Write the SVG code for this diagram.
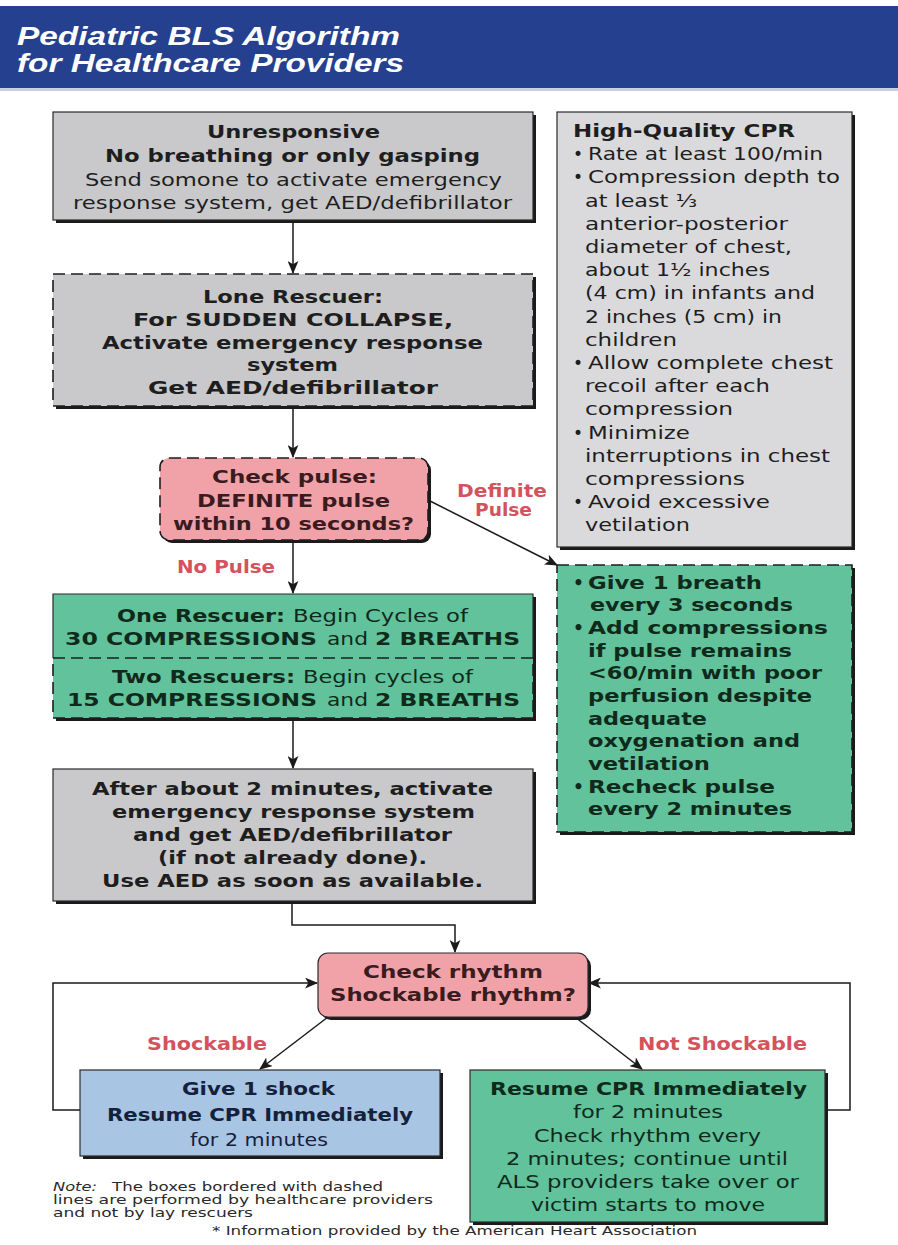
<svg xmlns="http://www.w3.org/2000/svg" width="898" height="1245" viewBox="0 0 898 1245">
<defs>
<style>
.b{font-family:"DejaVu Sans",sans-serif;font-weight:bold;font-size:18px;fill:#1e1e1e}
.r{font-family:"DejaVu Sans",sans-serif;font-size:18px;fill:#1e1e1e}
.cb{font-family:"DejaVu Sans",sans-serif;font-weight:bold;font-size:17px;fill:#1e1e1e}
.cr{font-family:"DejaVu Sans",sans-serif;font-size:17px;fill:#1e1e1e}
.pk{fill:#3a1b20}
.gt{fill:#0f2a1b}
.bt{fill:#15213b}
.lbl{font-family:"DejaVu Sans",sans-serif;font-weight:bold;font-size:17px;fill:#d4525c}
.note{font-family:"DejaVu Sans",sans-serif;font-size:11.5px;fill:#2a2a2a}
.title{font-family:"Liberation Sans",Arial,sans-serif;font-weight:bold;font-style:italic;font-size:25px;fill:#ffffff}
.sh{fill:#1a1a1a}
.solid{stroke:#2a2a2a;stroke-width:1.2}
.dash{stroke:#1e1e1e;stroke-width:1.6;stroke-dasharray:12 6}
.con{fill:none;stroke:#1a1a1a;stroke-width:1.5}
</style>
<marker id="ah" viewBox="0 0 12 10" refX="11" refY="5" markerWidth="13" markerHeight="11" markerUnits="userSpaceOnUse" orient="auto">
<path d="M0,0 L12,5 L0,10 L3,5 z" fill="#1a1a1a"/>
</marker>
</defs>
<rect width="898" height="1245" fill="#ffffff"/>

<g id="header">
<rect x="0" y="6" width="898" height="82" fill="#24408e"/>
<rect x="0" y="88" width="898" height="3" fill="#c9cfe2"/>
<text class="title" x="17" y="45" textLength="383" lengthAdjust="spacingAndGlyphs">Pediatric BLS Algorithm</text>
<text class="title" x="17" y="72" textLength="387" lengthAdjust="spacingAndGlyphs">for Healthcare Providers</text>
</g>

<g id="connectors">
<line class="con" x1="293" y1="223" x2="293" y2="273" marker-end="url(#ah)"/>
<line class="con" x1="293" y1="409" x2="293" y2="457" marker-end="url(#ah)"/>
<line class="con" x1="428" y1="500" x2="557" y2="565" marker-end="url(#ah)"/>
<line class="con" x1="293" y1="543" x2="293" y2="593" marker-end="url(#ah)"/>
<line class="con" x1="293" y1="721" x2="293" y2="768" marker-end="url(#ah)"/>
<polyline class="con" points="292,904 292,925 455,925 455,952" marker-end="url(#ah)"/>
<line class="con" x1="328" y1="1017" x2="260" y2="1069" marker-end="url(#ah)"/>
<line class="con" x1="575" y1="1017" x2="642" y2="1069" marker-end="url(#ah)"/>
<polyline class="con" points="80,1110 53,1110 53,983 317,983" marker-end="url(#ah)"/>
<polyline class="con" points="825,1110 850,1110 850,983 589,983" marker-end="url(#ah)"/>
</g>

<g id="unresponsive">
<rect class="sh" x="56" y="115" width="480" height="108"/>
<rect class="solid" x="53" y="112" width="480" height="108" fill="#c9c9cb"/>
<text class="b" x="207" y="138" textLength="173" lengthAdjust="spacingAndGlyphs">Unresponsive</text>
<text class="b" x="105" y="162" textLength="375" lengthAdjust="spacingAndGlyphs">No breathing or only gasping</text>
<text class="r" x="85" y="186" textLength="417" lengthAdjust="spacingAndGlyphs">Send somone to activate emergency</text>
<text class="r" x="73" y="209" textLength="439" lengthAdjust="spacingAndGlyphs">response system, get AED/defibrillator</text>
</g>

<g id="lone-rescuer">
<rect class="sh" x="56" y="277" width="480" height="132"/>
<rect x="53" y="274" width="480" height="132" fill="#c9c9cb"/>
<rect class="dash" x="53" y="274" width="480" height="132" fill="none"/>
<text class="b" x="203" y="303" textLength="180" lengthAdjust="spacingAndGlyphs">Lone Rescuer:</text>
<text class="b" x="133" y="326" textLength="320" lengthAdjust="spacingAndGlyphs">For SUDDEN COLLAPSE,</text>
<text class="b" x="102" y="349" textLength="381" lengthAdjust="spacingAndGlyphs">Activate emergency response</text>
<text class="b" x="247" y="371" textLength="91" lengthAdjust="spacingAndGlyphs">system</text>
<text class="b" x="148" y="394" textLength="290" lengthAdjust="spacingAndGlyphs">Get AED/defibrillator</text>
</g>

<g id="check-pulse">
<rect class="sh" x="163" y="461" width="268" height="82" rx="9"/>
<rect x="160" y="458" width="268" height="82" rx="9" fill="#f1a2a9"/>
<rect class="dash" x="160" y="458" width="268" height="82" rx="9" fill="none"/>
<text class="b pk" x="212" y="483" textLength="165" lengthAdjust="spacingAndGlyphs">Check pulse:</text>
<text class="b pk" x="197" y="507" textLength="193" lengthAdjust="spacingAndGlyphs">DEFINITE pulse</text>
<text class="b pk" x="173" y="530" textLength="241" lengthAdjust="spacingAndGlyphs">within 10 seconds?</text>
</g>

<g id="labels">
<text class="lbl" x="457" y="497" textLength="90" lengthAdjust="spacingAndGlyphs">Definite</text>
<text class="lbl" x="475" y="516" textLength="57" lengthAdjust="spacingAndGlyphs">Pulse</text>
<text class="lbl" x="177" y="573" textLength="98" lengthAdjust="spacingAndGlyphs">No Pulse</text>
<text class="lbl" x="147" y="1050" textLength="120" lengthAdjust="spacingAndGlyphs">Shockable</text>
<text class="lbl" x="638" y="1050" textLength="169" lengthAdjust="spacingAndGlyphs">Not Shockable</text>
</g>

<g id="compressions">
<rect class="sh" x="56" y="597" width="480" height="124"/>
<rect x="53" y="594" width="480" height="124" fill="#62c29c"/>
<path class="solid" d="M53,658 V594 H533 V658" fill="none"/>
<rect class="dash" x="53" y="658" width="480" height="60" fill="none"/>
<text class="b gt" x="117" y="622" textLength="168" lengthAdjust="spacingAndGlyphs">One Rescuer:</text>
<text class="r gt" x="293" y="622" textLength="175" lengthAdjust="spacingAndGlyphs">Begin Cycles of</text>
<text class="b gt" x="65" y="645" textLength="252" lengthAdjust="spacingAndGlyphs">30 COMPRESSIONS</text>
<text class="r gt" x="327" y="645" textLength="41" lengthAdjust="spacingAndGlyphs">and</text>
<text class="b gt" x="375" y="645" textLength="145" lengthAdjust="spacingAndGlyphs">2 BREATHS</text>
<text class="b gt" x="112" y="683" textLength="183" lengthAdjust="spacingAndGlyphs">Two Rescuers:</text>
<text class="r gt" x="303" y="683" textLength="170" lengthAdjust="spacingAndGlyphs">Begin cycles of</text>
<text class="b gt" x="67" y="706" textLength="250" lengthAdjust="spacingAndGlyphs">15 COMPRESSIONS</text>
<text class="r gt" x="327" y="706" textLength="41" lengthAdjust="spacingAndGlyphs">and</text>
<text class="b gt" x="375" y="706" textLength="145" lengthAdjust="spacingAndGlyphs">2 BREATHS</text>
</g>

<g id="after-2-minutes">
<rect class="sh" x="56" y="772" width="480" height="132"/>
<rect class="solid" x="53" y="769" width="480" height="132" fill="#c9c9cb"/>
<text class="b" x="92" y="795" textLength="401" lengthAdjust="spacingAndGlyphs">After about 2 minutes, activate</text>
<text class="b" x="112" y="818" textLength="363" lengthAdjust="spacingAndGlyphs">emergency response system</text>
<text class="b" x="133" y="841" textLength="319" lengthAdjust="spacingAndGlyphs">and get AED/defibrillator</text>
<text class="b" x="158" y="864" textLength="269" lengthAdjust="spacingAndGlyphs">(if not already done).</text>
<text class="b" x="102" y="887" textLength="381" lengthAdjust="spacingAndGlyphs">Use AED as soon as available.</text>
</g>

<g id="high-quality-cpr">
<rect class="sh" x="560" y="115" width="295" height="435"/>
<rect class="solid" x="557" y="112" width="295" height="435" fill="#dadadc"/>
<text class="cb" x="573" y="137" textLength="222" lengthAdjust="spacingAndGlyphs">High-Quality CPR</text>
<text class="cr" x="573" y="160">•</text>
<text class="cr" x="588" y="160" textLength="235" lengthAdjust="spacingAndGlyphs">Rate at least 100/min</text>
<text class="cr" x="573" y="183">•</text>
<text class="cr" x="588" y="183" textLength="252" lengthAdjust="spacingAndGlyphs">Compression depth to</text>
<text class="cr" x="585" y="207" textLength="112" lengthAdjust="spacingAndGlyphs">at least ⅓</text>
<text class="cr" x="585" y="230" textLength="203" lengthAdjust="spacingAndGlyphs">anterior-posterior</text>
<text class="cr" x="585" y="253" textLength="207" lengthAdjust="spacingAndGlyphs">diameter of chest,</text>
<text class="cr" x="585" y="276" textLength="185" lengthAdjust="spacingAndGlyphs">about 1½ inches</text>
<text class="cr" x="585" y="299" textLength="230" lengthAdjust="spacingAndGlyphs">(4 cm) in infants and</text>
<text class="cr" x="585" y="323" textLength="197" lengthAdjust="spacingAndGlyphs">2 inches (5 cm) in</text>
<text class="cr" x="585" y="346" textLength="92" lengthAdjust="spacingAndGlyphs">children</text>
<text class="cr" x="573" y="369">•</text>
<text class="cr" x="588" y="369" textLength="245" lengthAdjust="spacingAndGlyphs">Allow complete chest</text>
<text class="cr" x="585" y="392" textLength="185" lengthAdjust="spacingAndGlyphs">recoil after each</text>
<text class="cr" x="585" y="415" textLength="148" lengthAdjust="spacingAndGlyphs">compression</text>
<text class="cr" x="573" y="439">•</text>
<text class="cr" x="588" y="439" textLength="102" lengthAdjust="spacingAndGlyphs">Minimize</text>
<text class="cr" x="585" y="462" textLength="245" lengthAdjust="spacingAndGlyphs">interruptions in chest</text>
<text class="cr" x="585" y="485" textLength="160" lengthAdjust="spacingAndGlyphs">compressions</text>
<text class="cr" x="573" y="508">•</text>
<text class="cr" x="588" y="508" textLength="182" lengthAdjust="spacingAndGlyphs">Avoid excessive</text>
<text class="cr" x="585" y="531" textLength="105" lengthAdjust="spacingAndGlyphs">vetilation</text>
</g>

<g id="definite-pulse-actions">
<rect class="sh" x="560" y="568" width="295" height="267"/>
<rect x="557" y="565" width="295" height="267" fill="#62c29c"/>
<rect class="dash" x="557" y="565" width="295" height="267" fill="none"/>
<text class="cb gt" x="573" y="589">•</text>
<text class="cb gt" x="588" y="589" textLength="174" lengthAdjust="spacingAndGlyphs">Give 1 breath</text>
<text class="cb gt" x="590" y="611" textLength="203" lengthAdjust="spacingAndGlyphs">every 3 seconds</text>
<text class="cb gt" x="573" y="634">•</text>
<text class="cb gt" x="588" y="634" textLength="240" lengthAdjust="spacingAndGlyphs">Add compressions</text>
<text class="cb gt" x="588" y="657" textLength="204" lengthAdjust="spacingAndGlyphs">if pulse remains</text>
<text class="cb gt" x="588" y="679" textLength="234" lengthAdjust="spacingAndGlyphs">&lt;60/min with poor</text>
<text class="cb gt" x="588" y="702" textLength="224" lengthAdjust="spacingAndGlyphs">perfusion despite</text>
<text class="cb gt" x="588" y="725" textLength="119" lengthAdjust="spacingAndGlyphs">adequate</text>
<text class="cb gt" x="588" y="747" textLength="212" lengthAdjust="spacingAndGlyphs">oxygenation and</text>
<text class="cb gt" x="588" y="770" textLength="122" lengthAdjust="spacingAndGlyphs">vetilation</text>
<text class="cb gt" x="573" y="793">•</text>
<text class="cb gt" x="588" y="793" textLength="187" lengthAdjust="spacingAndGlyphs">Recheck pulse</text>
<text class="cb gt" x="588" y="815" textLength="204" lengthAdjust="spacingAndGlyphs">every 2 minutes</text>
</g>

<g id="check-rhythm">
<rect class="sh" x="321" y="956" width="270" height="64" rx="10"/>
<rect class="solid" x="318" y="953" width="270" height="64" rx="10" fill="#f1a2a9"/>
<text class="b pk" x="363" y="978" textLength="180" lengthAdjust="spacingAndGlyphs">Check rhythm</text>
<text class="b pk" x="330" y="1001" textLength="246" lengthAdjust="spacingAndGlyphs">Shockable rhythm?</text>
</g>

<g id="give-shock">
<rect class="sh" x="83" y="1073" width="360" height="86"/>
<rect class="solid" x="80" y="1070" width="360" height="86" fill="#a9c5e4"/>
<text class="b bt" x="182" y="1095" textLength="153" lengthAdjust="spacingAndGlyphs">Give 1 shock</text>
<text class="b bt" x="107" y="1121" textLength="306" lengthAdjust="spacingAndGlyphs">Resume CPR Immediately</text>
<text class="r bt" x="190" y="1146" textLength="138" lengthAdjust="spacingAndGlyphs">for 2 minutes</text>
</g>

<g id="resume-cpr">
<rect class="sh" x="473" y="1073" width="355" height="152"/>
<rect class="solid" x="470" y="1070" width="355" height="152" fill="#62c29c"/>
<text class="b gt" x="490" y="1095" textLength="317" lengthAdjust="spacingAndGlyphs">Resume CPR Immediately</text>
<text class="r gt" x="573" y="1118" textLength="150" lengthAdjust="spacingAndGlyphs">for 2 minutes</text>
<text class="r gt" x="534" y="1142" textLength="227" lengthAdjust="spacingAndGlyphs">Check rhythm every</text>
<text class="r gt" x="506" y="1165" textLength="282" lengthAdjust="spacingAndGlyphs">2 minutes; continue until</text>
<text class="r gt" x="497" y="1188" textLength="302" lengthAdjust="spacingAndGlyphs">ALS providers take over or</text>
<text class="r gt" x="531" y="1211" textLength="234" lengthAdjust="spacingAndGlyphs">victim starts to move</text>
</g>

<g id="notes">
<text class="note" x="53" y="1191" font-style="italic" textLength="44" lengthAdjust="spacingAndGlyphs">Note:</text>
<text class="note" x="112" y="1191" textLength="271" lengthAdjust="spacingAndGlyphs">The boxes bordered with dashed</text>
<text class="note" x="53" y="1204" textLength="380" lengthAdjust="spacingAndGlyphs">lines are performed by healthcare providers</text>
<text class="note" x="53" y="1217" textLength="200" lengthAdjust="spacingAndGlyphs">and not by lay rescuers</text>
<text class="note" x="212" y="1235" textLength="485" lengthAdjust="spacingAndGlyphs">* Information provided by the American Heart Association</text>
</g>
</svg>
